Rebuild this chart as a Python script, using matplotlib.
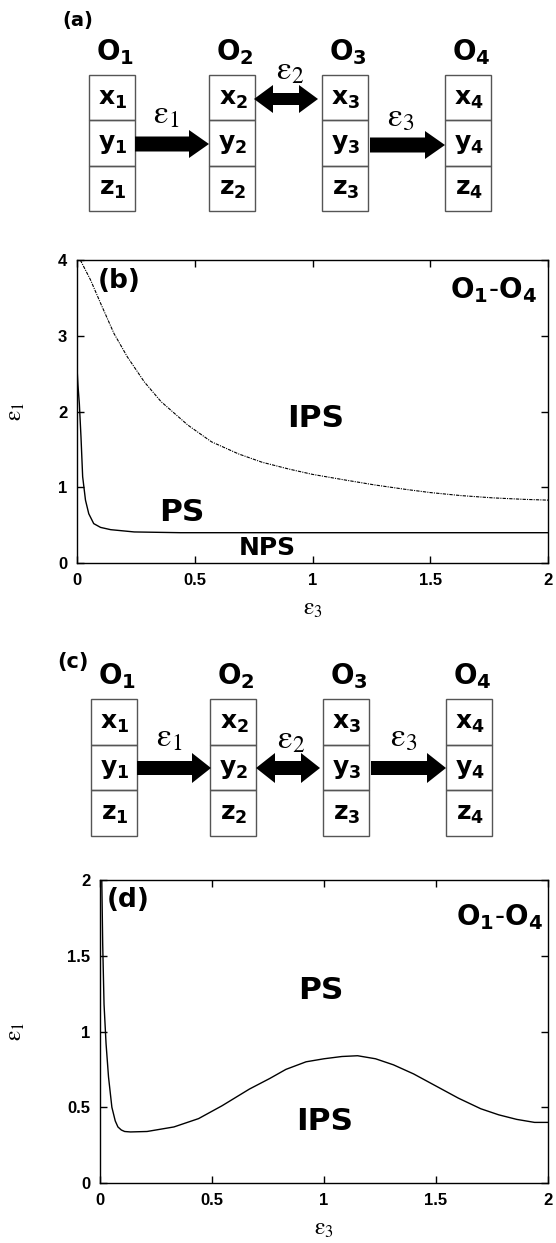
import matplotlib
matplotlib.use('Agg')
import matplotlib.pyplot as plt
from matplotlib.patches import Rectangle, FancyArrow

W, H = 556, 1243

# ---- data ----
nodes = ['1', '2', '3', '4']
variables = ['x', 'y', 'z']
coupling = ['1', '2', '3']

# panel (b): boundaries in the (eps3, eps1) plane
b_solid_x = [0.0, 0.0, 0.004, 0.01, 0.017, 0.024, 0.036, 0.05, 0.071, 0.1, 0.143,
             0.243, 0.44, 1.0, 1.5, 2.0]
b_solid_y = [3.22, 2.58, 2.35, 2.1, 1.66, 1.14, 0.83, 0.65, 0.52, 0.47, 0.44,
             0.41, 0.40, 0.40, 0.40, 0.40]
b_dash_x = [0.014, 0.057, 0.1, 0.157, 0.214, 0.286, 0.357, 0.471, 0.571, 0.686, 0.786,
            0.9, 1.0, 1.13, 1.265, 1.4, 1.5, 1.63, 1.765, 1.9, 2.0]
b_dash_y = [4.0, 3.74, 3.43, 3.03, 2.72, 2.39, 2.13, 1.82, 1.60, 1.44, 1.33,
            1.24, 1.17, 1.10, 1.03, 0.97, 0.93, 0.89, 0.86, 0.84, 0.83]

# panel (d)
d_x = [0.008, 0.012, 0.018, 0.027, 0.038, 0.053, 0.068, 0.08, 0.095, 0.11, 0.136, 0.21, 0.33,
       0.44, 0.545, 0.667, 0.758, 0.83, 0.92, 1.0, 1.08, 1.15, 1.23, 1.31, 1.4,
       1.5, 1.6, 1.7, 1.78, 1.86, 1.94, 2.0]
d_y = [2.0, 1.58, 1.18, 0.92, 0.70, 0.50, 0.41, 0.37, 0.35, 0.34, 0.337, 0.34, 0.37,
       0.425, 0.51, 0.62, 0.69, 0.75, 0.80, 0.82, 0.835, 0.84, 0.82, 0.78, 0.72,
       0.64, 0.56, 0.49, 0.45, 0.42, 0.40, 0.40]

fig = plt.figure(figsize=(W / 100, H / 100), dpi=100)

# overlay in pixel coordinates for the two network diagrams
ov = fig.add_axes([0, 0, 1, 1])
ov.set_xlim(0, W)
ov.set_ylim(H, 0)
ov.axis('off')
ov.patch.set_alpha(0)


def arrow(x1, x2, y, bw, hw, hl):
    ov.add_patch(FancyArrow(x1, y, x2 - x1, 0, width=bw, head_width=hw, head_length=hl,
                            length_includes_head=True, color='black', lw=0))


def diagram(tag, tag_xy, tag_size, box_left, box_top, row_h, box_w, arrows):
    ov.text(tag_xy[0], tag_xy[1], tag, fontsize=tag_size, fontweight='bold', ha='left', va='center')
    for i, n in enumerate(nodes):
        x0 = box_left[i]
        ov.text(x0 + box_w / 2 + 3, box_top - 23, r'$\mathbf{O}_{\mathbf{%s}}$' % n,
                fontsize=20, ha='center', va='center', math_fontfamily='dejavusans')
        for j, v in enumerate(variables):
            y0 = box_top + j * row_h
            ov.add_patch(Rectangle((x0, y0), box_w, row_h, fill=False, ec='#555555', lw=1))
            ov.text(x0 + box_w / 2 + 1, y0 + row_h / 2 + 1, r'$\mathbf{%s}_{\mathbf{%s}}$' % (v, n),
                    fontsize=18, ha='center', va='center', math_fontfamily='dejavusans')
    for (x1, x2, y, bw, hw, hl, both, lab_xy), c in zip(arrows, coupling):
        if both:
            xm = (x1 + x2) / 2
            arrow(xm, x2, y, bw, hw, hl)
            arrow(xm, x1, y, bw, hw, hl)
        else:
            arrow(x1, x2, y, bw, hw, hl)
        ov.text(lab_xy[0], lab_xy[1], r'$\mathrm{\varepsilon}_%s$' % c, fontsize=24,
                ha='center', va='center', math_fontfamily='stix')


diagram('(a)', (62, 20), 14, [89, 209, 322, 445], 75, 45.3, 46,
        [(135, 209, 144, 15, 28, 20, False, (166, 114)),
         (254, 318, 99, 12, 28, 19, True, (290, 70)),
         (370, 445, 145, 15, 28, 20, False, (401, 117))])
diagram('(c)', (57, 662), 15, [91, 210, 323, 446], 699, 45.7, 46,
        [(137, 211, 768, 14, 30, 19, False, (169, 737)),
         (256, 320, 768, 14, 30, 19, True, (291, 739)),
         (371, 446, 768, 14, 30, 19, False, (404, 737))])


def px_axes(l, t, r, b):
    return fig.add_axes([l / W, 1 - b / H, (r - l) / W, (b - t) / H])


def style(ax, xt, yt, ylabel_x):
    ax.set_xlim(0, 2)
    ax.set_xticks(xt)
    ax.set_yticks(yt)
    ax.set_xticklabels([('%g' % v) for v in xt])
    ax.set_yticklabels([('%g' % v) for v in yt])
    ax.tick_params(direction='in', top=True, right=True, length=5, width=1, pad=7)
    for lab in ax.get_xticklabels() + ax.get_yticklabels():
        lab.set_fontweight('bold')
        lab.set_fontsize(12)
        lab.set_family('Liberation Sans')
    for s in ax.spines.values():
        s.set_linewidth(1)
    ax.set_xlabel(r'$\mathrm{\varepsilon}_3$', fontsize=17, math_fontfamily='stix', labelpad=6)
    ax.set_ylabel(r'$\mathrm{\varepsilon}_1$', fontsize=17, math_fontfamily='stix')
    ax.yaxis.set_label_coords(ylabel_x, 0.5)


o14 = r'$\mathbf{O}_{\mathbf{1}}$-$\mathbf{O}_{\mathbf{4}}$'

axb = px_axes(77, 260, 548, 563)
axb.plot(b_solid_x, b_solid_y, color='black', lw=1)
axb.plot(b_dash_x, b_dash_y, color='black', lw=0.8, linestyle=(0, (3, 1, 1, 1)))
axb.set_ylim(0, 4)
style(axb, [0, 0.5, 1, 1.5, 2], [0, 1, 2, 3, 4], -0.106)
axb.text(98, 281, '(b)', fontsize=19, fontweight='bold', ha='left', va='center',
         transform=ov.transData)
axb.text(316, 418, 'IPS', fontsize=22.5, fontweight='bold', ha='center', va='center',
         transform=ov.transData)
axb.text(182, 512, 'PS', fontsize=22.5, fontweight='bold', ha='center', va='center',
         transform=ov.transData)
axb.text(267, 548, 'NPS', fontsize=18, fontweight='bold', ha='center', va='center',
         transform=ov.transData)
axb.text(537, 290, o14, fontsize=20, ha='right', va='center', math_fontfamily='dejavusans',
         transform=ov.transData)

axd = px_axes(100, 880, 548, 1183)
axd.plot(d_x, d_y, color='black', lw=1)
axd.set_ylim(0, 2)
style(axd, [0, 0.5, 1, 1.5, 2], [0, 0.5, 1, 1.5, 2], -0.163)
axd.text(107, 900, '(d)', fontsize=19, fontweight='bold', ha='left', va='center',
         transform=ov.transData)
axd.text(321, 990, 'PS', fontsize=22.5, fontweight='bold', ha='center', va='center',
         transform=ov.transData)
axd.text(325, 1121, 'IPS', fontsize=22.5, fontweight='bold', ha='center', va='center',
         transform=ov.transData)
axd.text(543, 917, o14, fontsize=20, ha='right', va='center', math_fontfamily='dejavusans',
         transform=ov.transData)

fig.savefig('out.png', dpi=100)
